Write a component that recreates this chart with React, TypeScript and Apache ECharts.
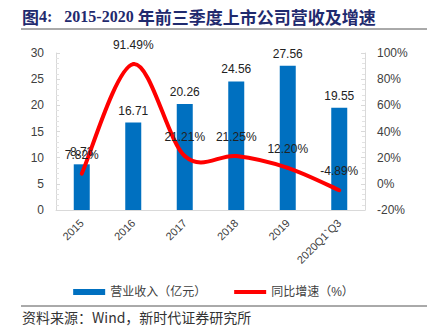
import React, { useEffect, useRef } from "react";
import * as echarts from "echarts";

const categories = ["2015", "2016", "2017", "2018", "2019", "2020Q1`Q3"];
const revenue = [8.73, 16.71, 20.26, 24.56, 27.56, 19.55];
const growth = [7.82, 91.49, 21.21, 21.25, 12.2, -4.89];
const barName = "营业收入（亿元）";
const lineName = "同比增速（%）";
const sourceText = "资料来源：Wind，新时代证券研究所";

const FONT = "'Liberation Sans', 'Noto Sans CJK SC', sans-serif";
const SERIF = "'Liberation Serif', 'Noto Sans CJK SC', serif";
const TITLE_COLOR = "#1F2A6E";

export default function App() {
  const ref = useRef<HTMLDivElement>(null);
  useEffect(() => {
    if (!ref.current) return;
    const chart = echarts.init(ref.current, undefined, { renderer: "svg" });
    const n = growth.length;
    chart.setOption({
      animation: false,
      textStyle: { fontFamily: FONT },
      grid: { left: 56, right: 62, top: 53, bottom: 126 },
      graphic: [
        {
          type: "text",
          left: 22,
          top: 8,
          style: {
            text: "{a|图}{b|4:   2015-2020 }{a|年前三季度上市公司营收及增速}",
            rich: {
              a: {
                fontSize: 17,
                fontWeight: "bold",
                fontFamily: "'Noto Sans CJK SC', sans-serif",
                fill: TITLE_COLOR,
                color: TITLE_COLOR,
              },
              b: {
                fontSize: 16,
                fontWeight: "bold",
                fontFamily: SERIF,
                fill: TITLE_COLOR,
                color: TITLE_COLOR,
              },
            },
          },
        },
        {
          type: "line",
          shape: { x1: 21, y1: 29, x2: 427, y2: 29 },
          style: { stroke: "#555", lineWidth: 1 },
        },
        {
          type: "line",
          shape: { x1: 21, y1: 306, x2: 427, y2: 306 },
          style: { stroke: "#555", lineWidth: 1 },
        },
        {
          type: "text",
          left: 22,
          top: 310,
          style: {
            text: sourceText,
            font: "14px 'Noto Sans CJK SC', sans-serif",
            fill: "#333",
          },
        },
      ],
      legend: {
        top: 281,
        left: "center",
        itemGap: 28,
        itemWidth: 32,
        itemHeight: 6,
        textStyle: { fontSize: 12, color: "#404040", fontFamily: FONT },
        data: [
          { name: barName, icon: "rect" },
          {
            name: lineName,
            icon: "path://M0,0 h33 v4 h-33 Z",
            itemStyle: { color: "#FF0000", opacity: 1 },
          },
        ],
      },
      xAxis: {
        type: "category",
        data: categories,
        axisLine: { lineStyle: { color: "#D9D9D9" } },
        axisTick: { show: false },
        axisLabel: { rotate: 45, fontSize: 11, color: "#404040", margin: 11, interval: 0 },
      },
      yAxis: [
        {
          type: "value",
          min: 0,
          max: 30,
          interval: 5,
          axisLine: { show: true, lineStyle: { color: "#D9D9D9" } },
          axisTick: { show: true, inside: true, length: 4, lineStyle: { color: "#D9D9D9" } },
          minorTick: { show: true, splitNumber: 5, length: 3, lineStyle: { color: "#E3E3E3" } },
          splitLine: { show: false },
          axisLabel: { fontSize: 12, color: "#404040", margin: 12 },
        },
        {
          type: "value",
          min: -20,
          max: 100,
          interval: 20,
          position: "right",
          axisLine: { show: true, lineStyle: { color: "#D9D9D9" } },
          axisTick: { show: true, inside: true, length: 4, lineStyle: { color: "#D9D9D9" } },
          minorTick: { show: true, splitNumber: 5, length: 3, lineStyle: { color: "#E3E3E3" } },
          splitLine: { show: false },
          axisLabel: { fontSize: 12, color: "#404040", margin: 12, formatter: "{value}%" },
        },
      ],
      series: [
        {
          name: barName,
          type: "bar",
          data: revenue,
          barWidth: 16,
          itemStyle: { color: "#0070C0" },
          label: { show: true, position: "top", fontSize: 12, color: "#222", distance: 6 },
        },
        {
          name: "curve",
          type: "custom",
          yAxisIndex: 1,
          data: growth.map((v, i) => [i, v]),
          z: 3,
          renderItem: (params: any, api: any) => {
            const i = params.dataIndex;
            if (i >= n - 1) return null;
            const pt = (k: number) => {
              const kk = Math.max(0, Math.min(n - 1, k));
              return api.coord([kk, growth[kk]]);
            };
            const p0 = pt(i - 1);
            const p1 = pt(i);
            const p2 = pt(i + 1);
            const p3 = pt(i + 2);
            const t = 1 / 6;
            return {
              type: "bezierCurve",
              shape: {
                x1: p1[0],
                y1: p1[1],
                x2: p2[0],
                y2: p2[1],
                cpx1: p1[0] + (p2[0] - p0[0]) * t,
                cpy1: p1[1] + (p2[1] - p0[1]) * t,
                cpx2: p2[0] - (p3[0] - p1[0]) * t,
                cpy2: p2[1] - (p3[1] - p1[1]) * t,
              },
              style: { stroke: "#FF0000", lineWidth: 4, fill: "none", lineCap: "round" },
            };
          },
        },
        {
          name: lineName,
          type: "line",
          yAxisIndex: 1,
          data: growth,
          z: 4,
          symbol: "circle",
          symbolSize: 2,
          showSymbol: true,
          lineStyle: { color: "#FF0000", width: 0, opacity: 0 },
          itemStyle: { color: "rgba(255,0,0,0)", borderWidth: 0 },
          label: {
            show: true,
            position: "top",
            distance: 12,
            fontSize: 12,
            color: "#222",
            formatter: (p: any) => Number(p.value).toFixed(2) + "%",
          },
        },
      ],
    });
    return () => chart.dispose();
  }, []);
  return (
    <div
      ref={ref}
      style={{ position: "fixed", left: 0, top: 0, width: 427, height: 336, background: "#fff" }}
    />
  );
}
